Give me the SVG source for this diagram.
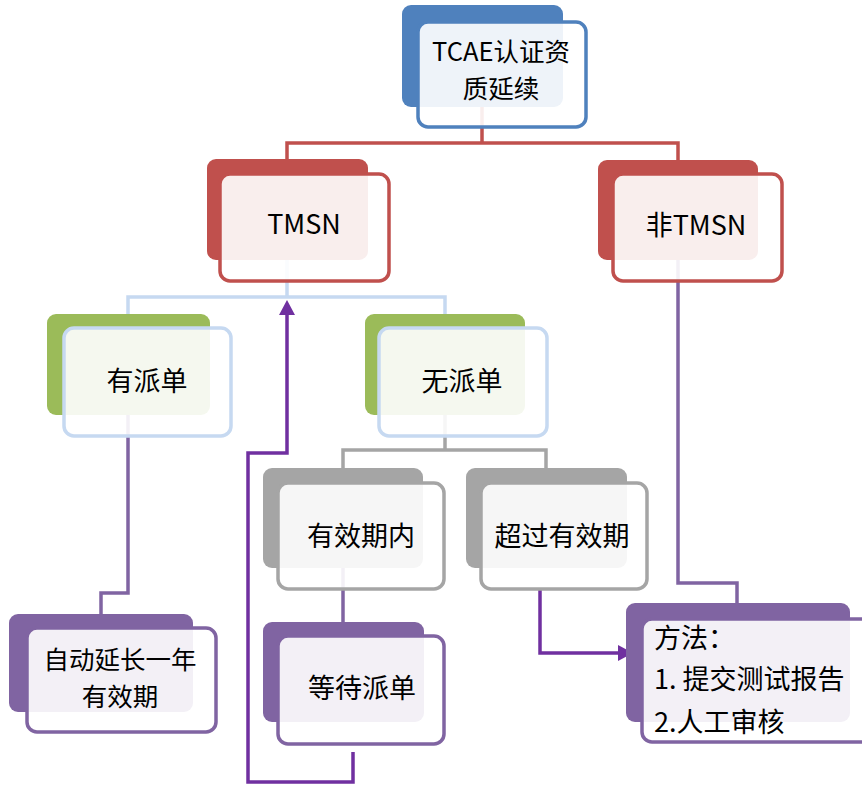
<svg xmlns="http://www.w3.org/2000/svg" width="862" height="785" viewBox="0 0 862 785">
<defs>
<style>
.t{font-family:"Noto Sans CJK SC","Liberation Sans",sans-serif;font-size:27px;fill:#000;}
.s{font-size:25.5px;}
.m{text-anchor:middle;}
.c{fill:none;stroke-width:3.5;stroke-linejoin:miter;stroke-linecap:butt;}
.front{fill:#fff;fill-opacity:0.9;stroke-width:3.5;}
.blue .back{fill:#4F81BD}.blue .front{stroke:#4F81BD}
.red .back{fill:#C0504D}.red .front{stroke:#C0504D}
.green .back{fill:#9BBB59}.green .front{stroke:#C6D9F1}
.gray .back{fill:#A5A5A5}.gray .front{stroke:#A5A5A5}
.purple .back{fill:#8064A2}.purple .front{stroke:#8064A2}
</style>
<marker id="arr" markerUnits="userSpaceOnUse" markerWidth="15" markerHeight="16" viewBox="0 0 15 16" refX="1" refY="8" orient="auto">
<path d="M0,0 L15,8 L0,16 z" fill="#7030A0"/>
</marker>
</defs>
<rect width="862" height="785" fill="#fff"/>
<g id="connectors">
<path class="c" stroke="#C0504D" d="M482,107 V143 M287,159 V143 H678 V160"/>
<path class="c" stroke="#C6D9F1" d="M287,260 V297 M128,314 V297 H445 V314"/>
<path class="c" stroke="#A5A5A5" d="M445,415 V450 M343,468 V450 H546 V468"/>
<path class="c" stroke="#8064A2" d="M128,415 V593 H101 V614"/>
<path class="c" stroke="#8064A2" d="M343,568 V622"/>
<path class="c" stroke="#8064A2" d="M678,260 V583 H737 V603"/>
<path class="c" stroke="#7030A0" stroke-width="4" d="M353,752 V782 H248 V453 H287 V314" marker-end="url(#arr)"/>
<path class="c" stroke="#7030A0" stroke-width="4" d="M540,590 V653 H619" marker-end="url(#arr)"/>
</g>
<g id="node-tcae" class="blue">
<rect class="back" x="402" y="5" width="161" height="102" rx="9"/>
<rect class="front" x="418" y="22" width="168" height="105" rx="10"/>
<text class="t s m"><tspan x="501" y="61">TCAE认证资</tspan><tspan x="501" y="98">质延续</tspan></text>
</g>
<g id="node-tmsn" class="red">
<rect class="back" x="207" y="159" width="161" height="101" rx="9"/>
<rect class="front" x="220" y="174" width="169" height="107" rx="10"/>
<text class="t m" x="304" y="234">TMSN</text>
</g>
<g id="node-non-tmsn" class="red">
<rect class="back" x="598" y="160" width="160" height="100" rx="9"/>
<rect class="front" x="613" y="174" width="169" height="107" rx="10"/>
<text class="t m" x="696" y="235">非TMSN</text>
</g>
<g id="node-youpaidan" class="green">
<rect class="back" x="47" y="314" width="163" height="101" rx="9"/>
<rect class="front" x="64" y="328" width="167" height="108" rx="10"/>
<text class="t m" x="147" y="391">有派单</text>
</g>
<g id="node-wupaidan" class="green">
<rect class="back" x="365" y="314" width="160" height="101" rx="9"/>
<rect class="front" x="379" y="328" width="168" height="108" rx="10"/>
<text class="t m" x="462" y="391">无派单</text>
</g>
<g id="node-youxiaoqinei" class="gray">
<rect class="back" x="263" y="468" width="160" height="100" rx="9"/>
<rect class="front" x="278" y="483" width="166" height="106" rx="10"/>
<text class="t m" x="361" y="546">有效期内</text>
</g>
<g id="node-chaoguo" class="gray">
<rect class="back" x="466" y="468" width="161" height="100" rx="9"/>
<rect class="front" x="481" y="483" width="166" height="106" rx="10"/>
<text class="t m" x="562" y="546">超过有效期</text>
</g>
<g id="node-zidong" class="purple">
<rect class="back" x="9" y="614" width="184" height="98" rx="9"/>
<rect class="front" x="27" y="628" width="189" height="104" rx="10"/>
<text class="t s m"><tspan x="120" y="669">自动延长一年</tspan><tspan x="120" y="706">有效期</tspan></text>
</g>
<g id="node-dengdai" class="purple">
<rect class="back" x="263" y="622" width="161" height="100" rx="9"/>
<rect class="front" x="278" y="636" width="166" height="108" rx="10"/>
<text class="t m" x="362" y="698">等待派单</text>
</g>
<g id="node-fangfa" class="purple">
<rect class="back" x="626" y="603" width="224" height="119" rx="9"/>
<rect class="front" x="642" y="619" width="230" height="123" rx="10"/>
<text class="t"><tspan x="654" y="648">方法：</tspan><tspan x="654" y="689">1. 提交测试报告</tspan><tspan x="654" y="732">2.人工审核</tspan></text>
</g>
</svg>
